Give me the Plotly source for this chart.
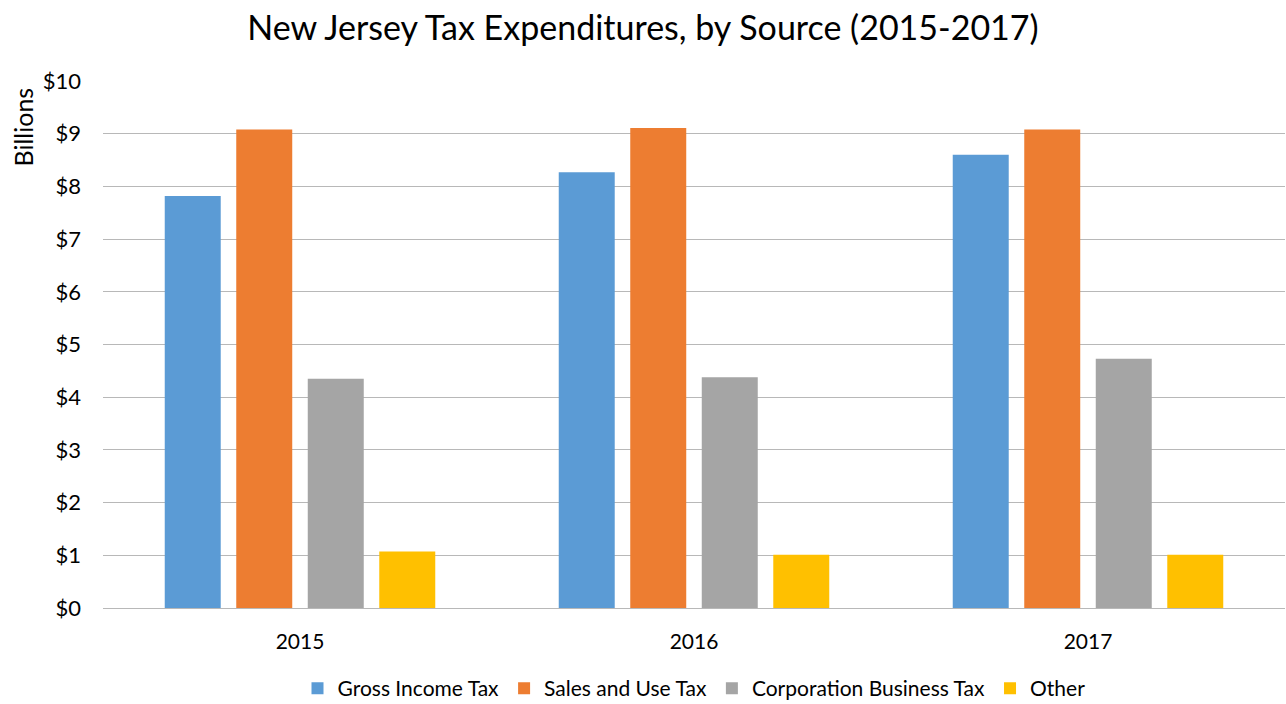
import plotly.graph_objects as go

# Tax expenditures in billions of dollars, by fiscal year
years = ["2015", "2016", "2017"]
gross_income = [7.82, 8.27, 8.60]
sales_use = [9.08, 9.11, 9.08]
corporation = [4.35, 4.38, 4.73]
other = [1.07, 1.01, 1.01]

series_names = ["Gross Income Tax", "Sales and Use Tax", "Corporation Business Tax", "Other"]
series_values = [gross_income, sales_use, corporation, other]
series_colors = ["#5B9BD5", "#ED7D31", "#A5A5A5", "#FFC000"]

y_ticks = list(range(0, 11))
y_tick_labels = [f"${v}" for v in y_ticks]

font_family = "Lato, 'Open Sans', sans-serif"

fig = go.Figure()
for name, vals, color in zip(series_names, series_values, series_colors):
    fig.add_trace(go.Bar(x=years, y=vals, name=name, marker_color=color,
                         marker_line_width=0))

fig.update_layout(
    width=1286, height=704,
    margin=dict(l=103, r=1, t=81, b=96, autoexpand=False),
    paper_bgcolor="white", plot_bgcolor="white",
    barmode="group", bargap=0.274, bargroupgap=0.217,
    font=dict(family=font_family, color="#000000"),
    title=dict(text="New Jersey Tax Expenditures, by Source (2015-2017)",
               x=0.5, xanchor="center", y=0.96, yanchor="middle",
               font=dict(size=34, family=font_family, color="#000000")),
    legend=dict(orientation="h", x=0.5, xanchor="center", y=-0.153, yanchor="middle",
                font=dict(size=21, family=font_family), itemwidth=30,
                traceorder="normal"),
    showlegend=True,
)

fig.update_yaxes(range=[0, 10], tickvals=y_ticks, ticktext=y_tick_labels,
                 showgrid=True, gridcolor="#B8B8B8", gridwidth=1.4,
                 zeroline=False, showline=False,
                 ticks="", ticklabelstandoff=21,
                 tickfont=dict(size=22, family=font_family, color="#000000"),
                 fixedrange=True)
fig.update_xaxes(showgrid=False, showline=True, linecolor="#B8B8B8", linewidth=1.4,
                 ticks="", ticklabelstandoff=15,
                 tickfont=dict(size=21, family=font_family, color="#000000"))

fig.add_annotation(text="Billions", textangle=-90, xref="paper", yref="paper",
                   x=-0.068, y=0.913, xanchor="center", yanchor="middle",
                   showarrow=False, font=dict(size=25, family=font_family, color="#000000"))

fig.write_html("out.html")
